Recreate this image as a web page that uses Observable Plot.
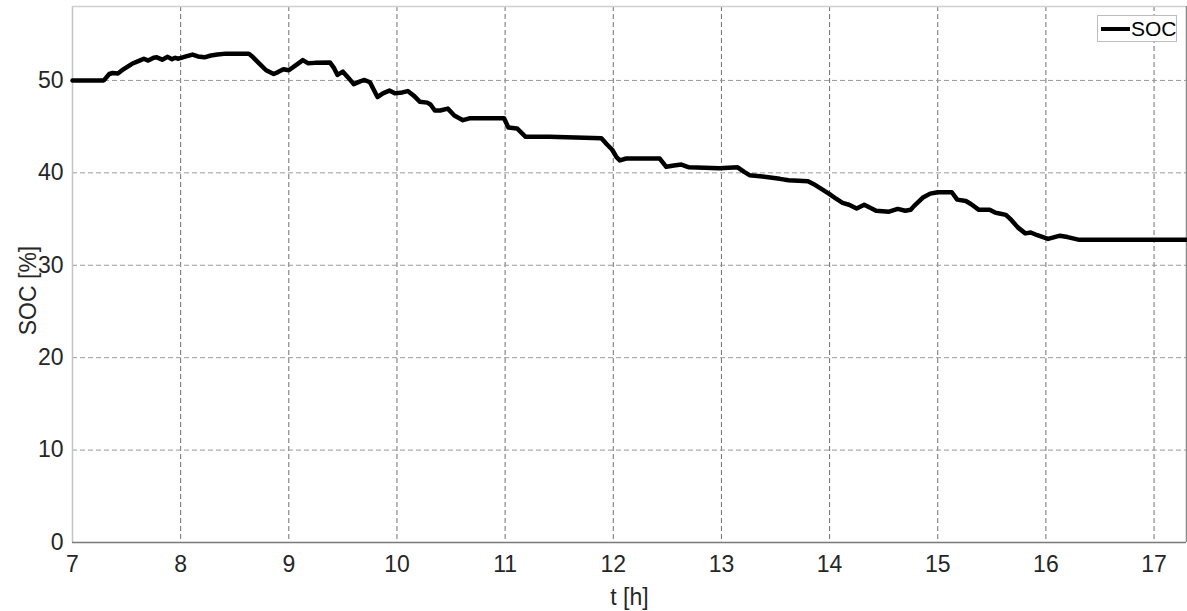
<!DOCTYPE html>
<html>
<head>
<meta charset="utf-8">
<script src="https://cdn.jsdelivr.net/npm/d3@7"></script>
<script src="https://cdn.jsdelivr.net/npm/@observablehq/plot@0.6"></script>
<style>
  html, body { margin: 0; padding: 0; background: #fff; }
  #wrap { position: relative; width: 1187px; height: 611px; }
  #legend {
    position: absolute; left: 1097px; top: 15px; width: 80px; height: 27px;
    border: 1px solid #bdbdbd; background: #fff; box-sizing: border-box;
    font-family: "Liberation Sans", Arial, Helvetica, sans-serif; font-size: 21px; color: #000;
  }
  #legend .sw { position: absolute; left: 3px; top: 11px; width: 29px; height: 4px; background: #000; }
  #legend .tx { position: absolute; left: 33px; top: 1px; line-height: 24px; }
</style>
</head>
<body>
<div id="wrap"><div id="legend"><span class="sw"></span><span class="tx">SOC</span></div></div>
<script>
const seriesName = "SOC";
const tHours = [7.00,7.29,7.34,7.37,7.42,7.47,7.55,7.62,7.66,7.70,7.75,7.78,7.83,7.88,7.92,7.95,7.98,8.05,8.11,8.16,8.22,8.28,8.34,8.42,8.63,8.67,8.73,8.79,8.86,8.90,8.95,9.00,9.06,9.13,9.18,9.24,9.38,9.42,9.45,9.50,9.55,9.60,9.66,9.70,9.75,9.82,9.87,9.93,9.98,10.05,10.10,10.16,10.21,10.28,10.31,10.35,10.40,10.47,10.53,10.61,10.67,10.99,11.03,11.11,11.19,11.41,11.89,11.94,11.99,12.03,12.06,12.12,12.43,12.49,12.56,12.63,12.70,12.98,13.15,13.21,13.26,13.38,13.54,13.62,13.80,13.85,13.92,14.00,14.06,14.12,14.18,14.25,14.32,14.38,14.43,14.55,14.63,14.70,14.75,14.78,14.86,14.93,15.00,15.13,15.18,15.26,15.31,15.38,15.48,15.53,15.57,15.63,15.68,15.74,15.81,15.86,15.92,16.02,16.08,16.13,16.20,16.31,17.30];
const socValues = [50.0,50.0,50.7,50.8,50.75,51.2,51.8,52.15,52.35,52.15,52.45,52.5,52.25,52.55,52.3,52.45,52.35,52.6,52.8,52.6,52.5,52.7,52.8,52.9,52.9,52.5,51.8,51.1,50.7,50.9,51.2,51.1,51.6,52.2,51.85,51.9,51.95,51.3,50.6,50.95,50.3,49.6,49.9,50.05,49.8,48.2,48.6,48.9,48.6,48.7,48.85,48.3,47.7,47.6,47.4,46.75,46.75,46.95,46.2,45.7,45.9,45.9,44.9,44.8,43.9,43.9,43.75,43.1,42.5,41.7,41.35,41.55,41.55,40.65,40.8,40.9,40.6,40.5,40.6,40.1,39.75,39.6,39.35,39.2,39.1,38.8,38.3,37.7,37.2,36.75,36.55,36.15,36.55,36.2,35.9,35.8,36.1,35.9,36.0,36.4,37.3,37.75,37.9,37.9,37.1,36.95,36.6,36.0,36.0,35.7,35.6,35.45,34.9,34.1,33.45,33.55,33.25,32.85,33.05,33.2,33.05,32.75,32.75];
const xTicks = [7,8,9,10,11,12,13,14,15,16,17];
const yTicks = [0,10,20,30,40,50];
const xDomain = [7, 17.3];
const yDomain = [0, 58];
const xLabel = "t [h]";
const yLabel = "SOC [%]";

const data = tHours.map((t, i) => ({t, v: socValues[i]}));

const chart = Plot.plot({
  width: 1187,
  height: 611,
  marginLeft: 72,
  marginRight: 1,
  marginTop: 6,
  marginBottom: 69,
  style: {fontFamily: "'Liberation Sans', Arial, Helvetica, sans-serif", fontSize: "23px", color: "#262626", background: "#fff"},
  x: {domain: xDomain},
  y: {domain: yDomain},
  marks: [
    Plot.ruleX(xTicks.filter(d => d > 7), {x: d => d, stroke: "#707070", strokeDasharray: "5,3", strokeWidth: 1}),
    Plot.ruleY(yTicks.filter(d => d > 0), {y: d => d, stroke: "#9a9a9a", strokeDasharray: "5,3", strokeWidth: 1}),
    Plot.ruleX([xDomain[0]], {stroke: "#c4c4c4", strokeWidth: 1.5}),
    Plot.ruleY([yDomain[1]], {stroke: "#cfcfcf", strokeWidth: 1.5}),
    Plot.ruleX([xDomain[1]], {stroke: "#8a8a8a", strokeWidth: 1.5}),
    Plot.ruleY([0], {stroke: "#7a7a7a", strokeWidth: 1.5}),
    Plot.axisX({ticks: xTicks, tickSize: 0, tickPadding: 13, fontSize: 23, tickFormat: d => String(d), label: null}),
    Plot.axisY({ticks: yTicks, tickSize: 0, tickPadding: 9, fontSize: 23, tickFormat: d => String(d), label: null}),
    Plot.line(data, {x: "t", y: "v", stroke: "#000", strokeWidth: 4.5, strokeLinejoin: "round"}),
    Plot.text([xLabel], {frameAnchor: "bottom", dy: 62, text: d => d, fill: "#262626", fontSize: 23, lineAnchor: "bottom"}),
    Plot.text([yLabel], {frameAnchor: "left", textAnchor: "middle", dx: -44, dy: 16, rotate: -90, text: d => d, fill: "#262626", fontSize: 23})
  ]
});
document.getElementById("wrap").prepend(chart);
</script>
</body>
</html>
